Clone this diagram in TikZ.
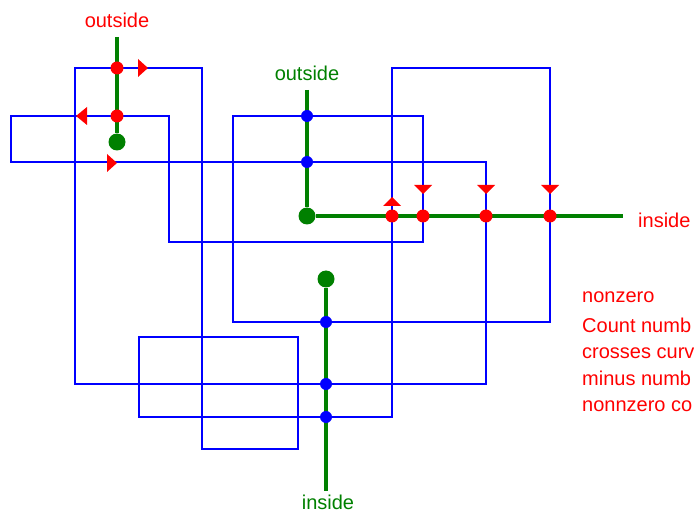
\documentclass[tikz,border=0pt]{standalone}
\usepackage{fontspec}
\setmainfont{Liberation Sans}
\usepackage{xcolor}
\definecolor{curveblue}{rgb}{0,0,1}
\definecolor{hitred}{rgb}{1,0,0}
\definecolor{raygreen}{rgb}{0,0.5,0}
\usetikzlibrary{positioning}
\usetikzlibrary{calc}

\begin{document}
\begin{tikzpicture}[x=1pt, y=-1pt,
	curve/.style={color=curveblue, line width=1.6pt},
	ray/.style={color=raygreen, line width=3.2pt},
	reddot/.style={circle, fill=hitred, inner sep=0pt, minimum size=13pt},
	bluedot/.style={circle, fill=curveblue, inner sep=0pt, minimum size=12pt},
	enddot/.style={circle, fill=raygreen, inner sep=0pt, minimum size=17pt},
	redtext/.style={text=hitred, font=\fontsize{20}{24}\selectfont, inner sep=0pt},
	greentext/.style={text=raygreen, font=\fontsize{20}{24}\selectfont, inner sep=0pt}]

\useasboundingbox (0,0) rectangle (694,513);

% Curve
\draw[curve] (75,68) -- (202,68) -- (202,449) -- (298,449) -- (298,337) -- (139,337)
	-- (139,417) -- (392,417) -- (392,68) -- (550,68) -- (550,322) -- (233,322)
	-- (233,116) -- (423,116) -- (423,242) -- (169,242) -- (169,116) -- (11,116)
	-- (11,162) -- (486,162) -- (486,384) -- (75,384) -- cycle;

% Ray 1
\node[enddot] (r1-end) at (117,142) {};
\coordinate (r1-out) at (117,37);
\draw[ray] (r1-out) -- (r1-end);
\node[reddot] (r1-a) at (117,68) {};
\node[reddot] (r1-b) at (117,116) {};
\node[redtext] (r1-label) at (117,20) {outside};

\fill[hitred] (138,59) -- (148,68) -- (138,77) -- cycle;
\fill[hitred] (87,107) -- (76,116) -- (87,125) -- cycle;
\fill[hitred] (107,154) -- (117,163) -- (107,172) -- cycle;

% Ray 2
\node[enddot] (r2-end) at (307,216) {};
\coordinate (r2-out) at (307,90);
\coordinate (r2-in) at (623,216);
\draw[ray] (r2-out) -- (r2-end);
\draw[ray] (r2-end) -- (r2-in);
\node[bluedot] (r2-a) at (307,116) {};
\node[bluedot] (r2-b) at (307,162) {};
\node[reddot] (r2-c) at (392,216) {};
\node[reddot] (r2-d) at (423,216) {};
\node[reddot] (r2-e) at (486,216) {};
\node[reddot] (r2-f) at (550,216) {};
\node[greentext] (r2-label) at (307,73) {outside};
\node[redtext, anchor=west] (r2-inlabel) at (638,220) {inside};

\fill[hitred] (383,206) -- (392,197) -- (401,206) -- cycle;
\foreach \xx in {423,486,550}
	\fill[hitred] (\xx-9,185) -- (\xx+9,185) -- (\xx,194) -- cycle;

% Ray 3
\node[enddot] (r3-end) at (326,279) {};
\coordinate (r3-in) at (326,491);
\draw[ray] (r3-end) -- (r3-in);
\node[bluedot] (r3-a) at (326,322) {};
\node[bluedot] (r3-b) at (326,384) {};
\node[bluedot] (r3-c) at (326,417) {};
\node[greentext] (r3-label) at (328,502) {inside};

% Rule
\node[redtext, anchor=base west] (rule) at (582,302) {nonzero};
\node[redtext, anchor=base west] (rule-1) at (582,333) {Count numb};
\node[redtext, anchor=base west] (rule-2) at (582,359) {crosses curv};
\node[redtext, anchor=base west] (rule-3) at (582,385) {minus numb};
\node[redtext, anchor=base west] (rule-4) at (582,411) {nonnzero co};

\end{tikzpicture}
\end{document}
